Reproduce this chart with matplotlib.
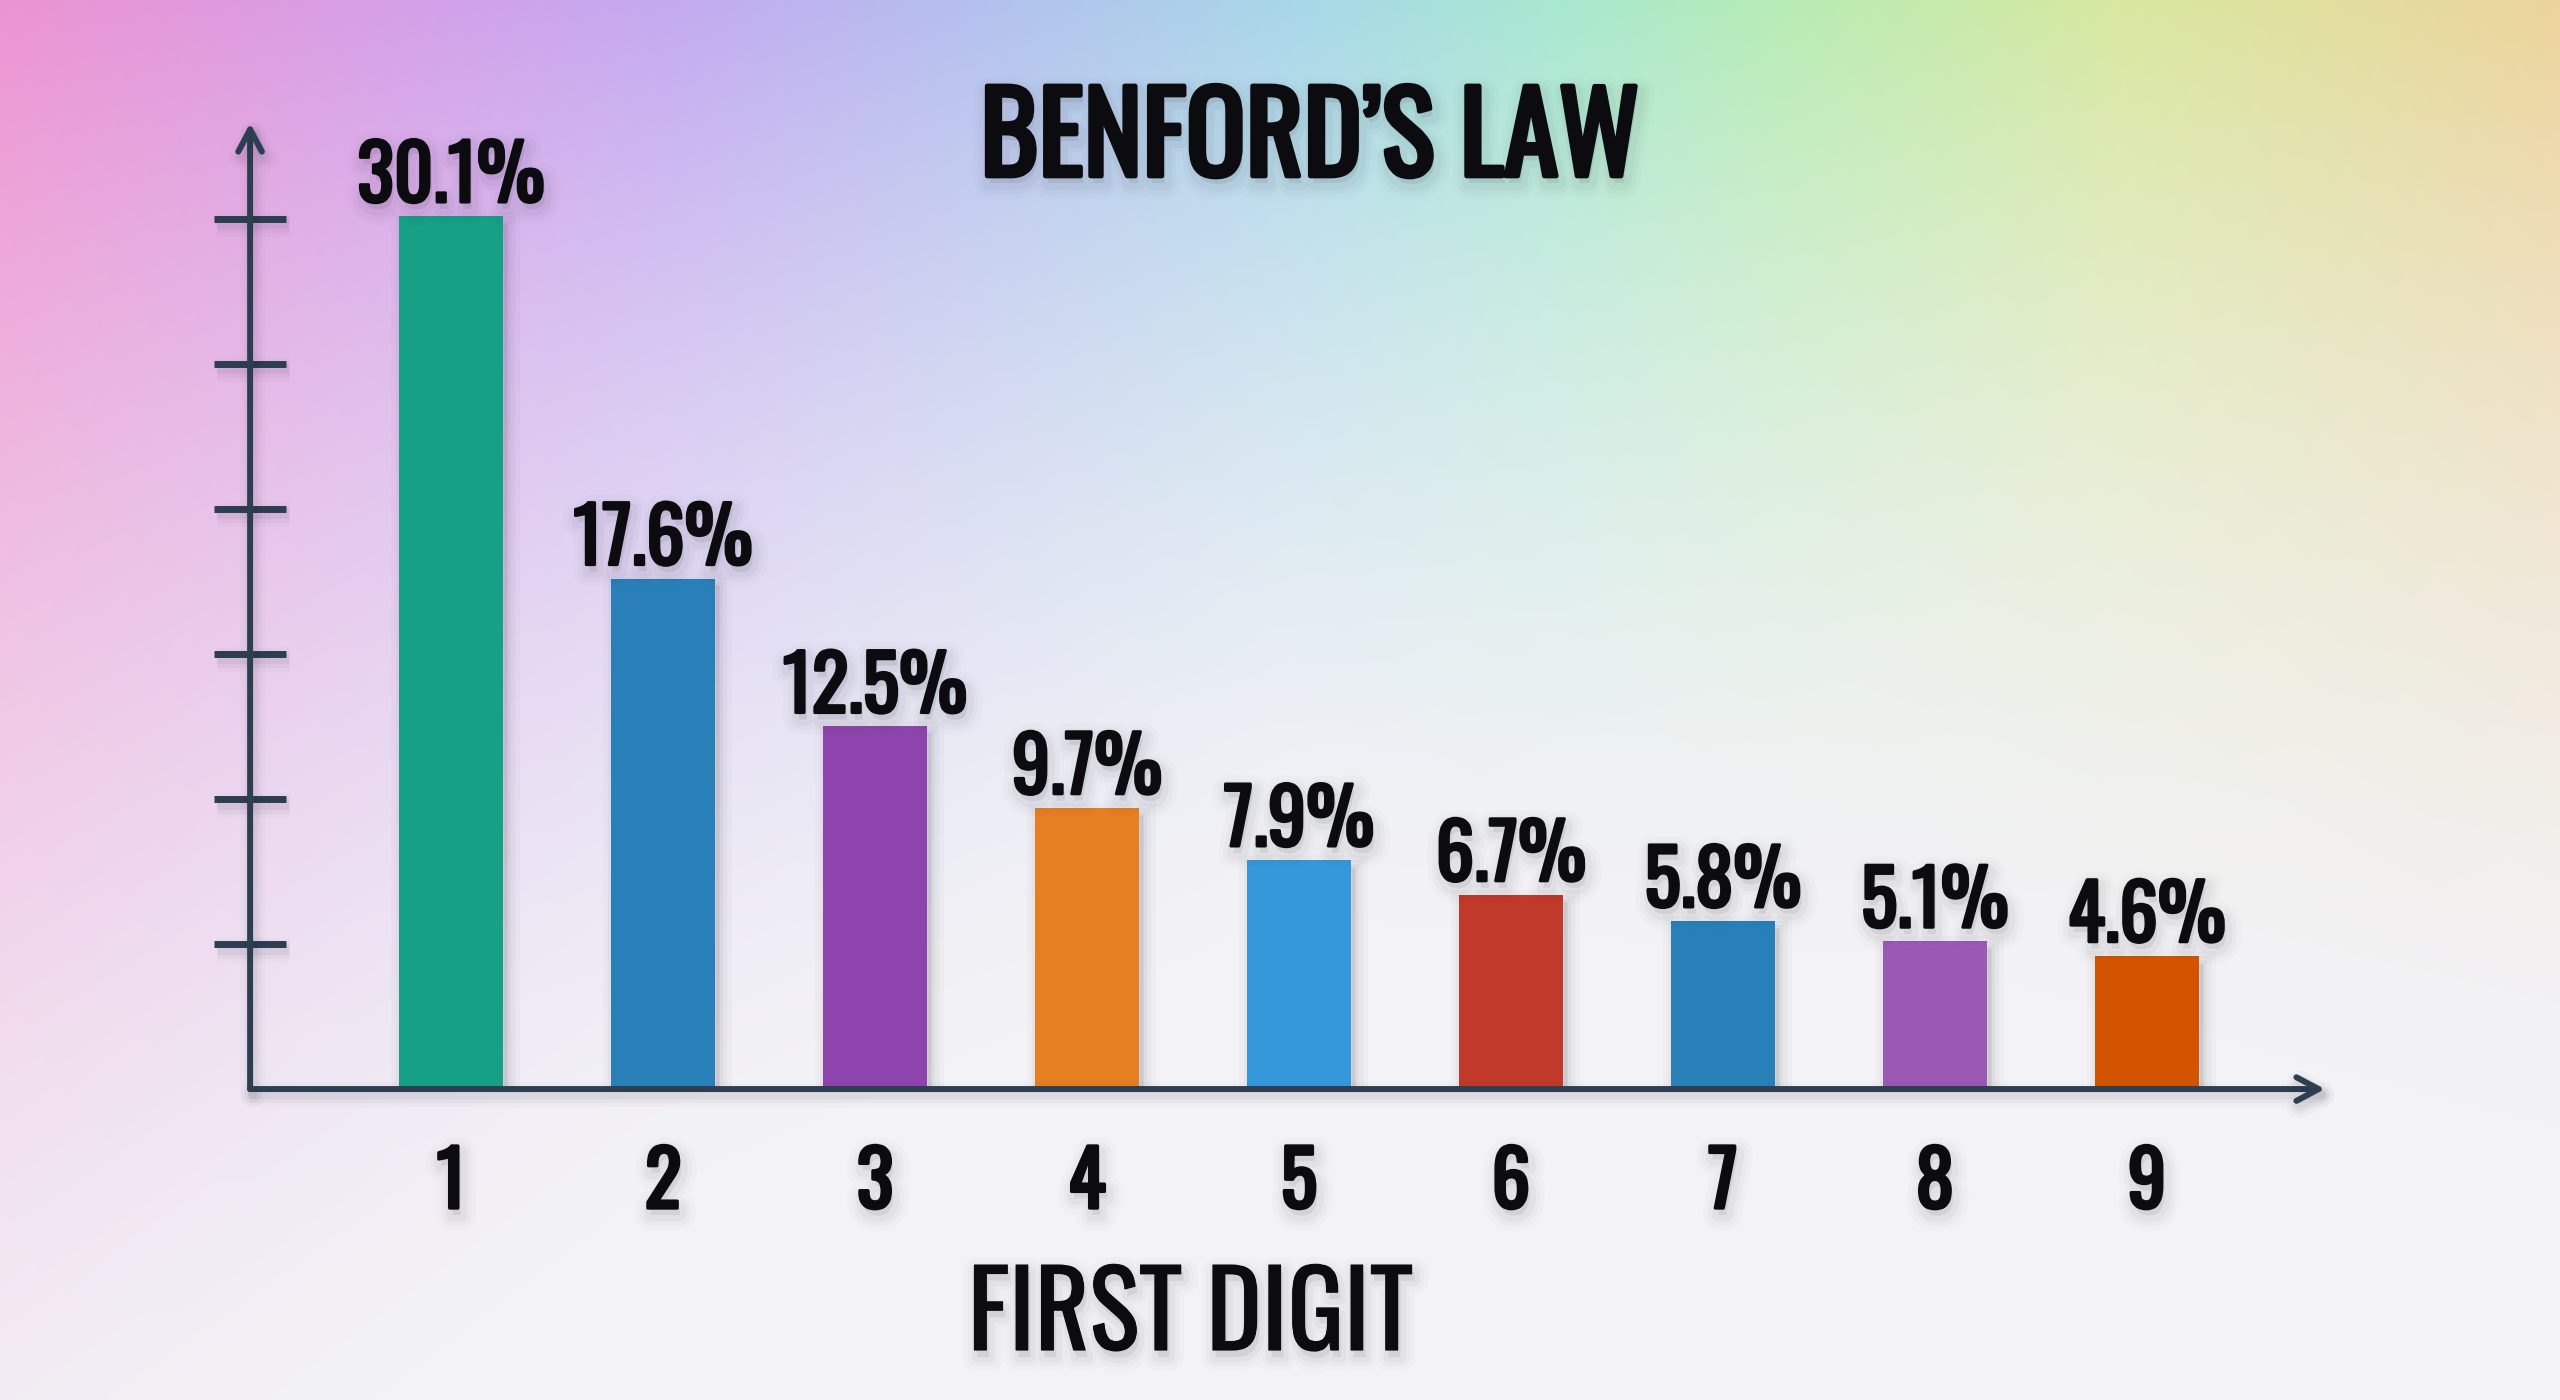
import matplotlib
matplotlib.use("Agg")
import matplotlib.pyplot as plt
import matplotlib.patheffects as pe
import matplotlib.font_manager as fm
import numpy as np
from matplotlib.colors import to_rgb
from matplotlib.textpath import TextPath

# Benford's law: share of each leading digit
digits = [1, 2, 3, 4, 5, 6, 7, 8, 9]
shares = [30.1, 17.6, 12.5, 9.7, 7.9, 6.7, 5.8, 5.1, 4.6]
bar_colors = ["#16a085", "#2980b9", "#8e44ad", "#e67e22", "#3498db",
              "#c0392b", "#2980b9", "#9b59b6", "#d35400"]
y_ticks = [5, 10, 15, 20, 25, 30]
title = "BENFORD\u2019S LAW"
xlabel = "FIRST DIGIT"

# pick the narrowest family that is actually installed
installed = {f.name for f in fm.fontManager.ttflist}
FONT = ["DejaVu Sans"]
for cand in ["Oswald", "Roboto Condensed", "Liberation Sans Narrow", "Roboto"]:
    if cand in installed:
        FONT = [cand, "DejaVu Sans"]
        break

# cap height of the chosen face, so sizes can be given in pixels of cap height
CAP = TextPath((0, 0), "H", size=100,
               prop=fm.FontProperties(family=FONT)).get_extents().height / 100


def size_for(cap_px):
    return cap_px / (CAP * 100 / 72)


INK = "#2c3e50"
TEXT = "#0b0b10"
SHADE = "#1c1c28"


def text_fx(bold=0.0):
    fx = []
    for lw, a in [(20, 0.014), (13, 0.024), (7, 0.035)]:
        fx.append(pe.SimplePatchShadow(offset=(2, -5), shadow_rgbFace=SHADE,
                                       alpha=a, linewidth=lw + bold,
                                       foreground=SHADE))
    if bold:
        fx.append(pe.Stroke(linewidth=bold, foreground=TEXT))
    fx.append(pe.Normal())
    return fx


def bar_fx():
    fx = []
    for lw, a in [(18, 0.018), (11, 0.03), (5, 0.045)]:
        fx.append(pe.SimplePatchShadow(offset=(3, -5), shadow_rgbFace=SHADE,
                                       alpha=a, linewidth=lw, foreground=SHADE))
    fx.append(pe.Normal())
    return fx


def line_fx():
    fx = []
    for lw, a in [(18, 0.02), (12, 0.035), (7, 0.05)]:
        fx.append(pe.Stroke(offset=(2, -4), linewidth=lw, foreground=SHADE, alpha=a))
    fx.append(pe.Normal())
    return fx


fig = plt.figure(figsize=(25.6, 14), dpi=100)

# background: hue sweep along the top, fading to near white downwards
stop_pos = [0.00, 0.16, 0.26, 0.38, 0.51, 0.61, 0.70, 0.83, 1.00]
stop_col = ["#ec94d2", "#d4a0e8", "#c4aaf0", "#b4c0ee", "#a8d8e8",
            "#a8e8d0", "#b8ecb4", "#d8e8a0", "#ecd49c"]
rgb = np.array([to_rgb(c) for c in stop_col])
u = np.linspace(0, 1, 320)
v = np.linspace(0, 1, 175)[:, None]
top = np.stack([np.interp(u, stop_pos, rgb[:, k]) for k in range(3)], axis=-1)
fade_len = np.interp(u, [0, 0.25, 0.5, 0.75, 1], [1.2, 0.85, 0.65, 0.68, 0.8])
w = np.clip(1 - v / fade_len, 0, 1) ** 1.5
base = np.array(to_rgb("#f3f2f6"))
img = base + (top[None, :, :] - base) * w[..., None]

bg = fig.add_axes([0, 0, 1, 1], zorder=-10)
bg.imshow(img, aspect="auto", interpolation="bilinear", extent=[0, 1, 0, 1])
bg.axis("off")

ax = fig.add_axes([0.0977, 0.2221, 0.8105, 0.69])
ax.patch.set_alpha(0)
ax.set_xlim(0.052, 9.84)
ax.set_ylim(0, 33.3)
for s in ax.spines.values():
    s.set_visible(False)

bars = ax.bar(digits, shares, width=0.49, color=bar_colors, zorder=3)
for b in bars:
    b.set_path_effects(bar_fx())

for d, s in zip(digits, shares):
    ax.annotate(f"{s}%", xy=(d, s), xytext=(0, 10), textcoords="offset points",
                ha="center", va="baseline", fontsize=size_for(62),
                fontweight="bold", family=FONT, color=TEXT,
                path_effects=text_fx(bold=2.2), zorder=4)

# axes drawn as arrows
arrow = dict(arrowstyle="->,head_length=1.6,head_width=0.85", lw=4.3,
             color=INK, shrinkA=0, shrinkB=0, capstyle="round",
             path_effects=line_fx())
ax.annotate("", xy=(0, 1), xytext=(0, 0), xycoords="axes fraction", arrowprops=arrow)
ax.annotate("", xy=(1, 0), xytext=(0, 0), xycoords="axes fraction", arrowprops=arrow)

ax.set_yticks(y_ticks)
ax.tick_params(axis="y", direction="inout", length=52, width=5, color=INK,
               labelleft=False)
for t in ax.yaxis.get_major_ticks():
    t.tick1line.set_path_effects(line_fx())

ax.set_xticks(digits, [str(d) for d in digits])
ax.tick_params(axis="x", length=0, pad=41, labelsize=size_for(62), labelcolor=TEXT)
for lbl in ax.get_xticklabels():
    lbl.set_fontweight("bold")
    lbl.set_family(FONT)
    lbl.set_path_effects(text_fx(bold=2.4))

fig.text(0.5117, 0.8743, title, ha="center", va="baseline", fontsize=size_for(90),
         fontweight="bold", family=FONT, color=TEXT, path_effects=text_fx(bold=3.4))
fig.text(0.465, 0.0357, xlabel, ha="center", va="baseline", fontsize=size_for(85),
         family=FONT, color=TEXT, path_effects=text_fx(bold=0.8))

fig.savefig("out.png", dpi=100)
